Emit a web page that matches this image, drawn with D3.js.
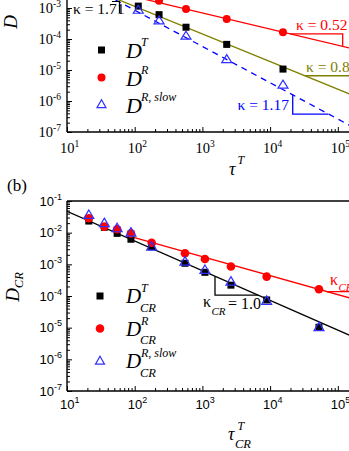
<!DOCTYPE html>
<html><head><meta charset="utf-8">
<script src="https://cdn.jsdelivr.net/npm/d3@7"></script>
<style>body{margin:0;background:#fff} svg{display:block}</style>
</head><body>
<svg id="c" width="349" height="451"></svg>
<script>
// ---------- data ----------
const xTickExps = [1, 2, 3, 4, 5];
const yTickExps = [-7, -6, -5, -4, -3, -2, -1];
const yLabelExpsA = [-7, -6, -5, -4, -3];   // labels visible in the cropped panel (a)
const yLabelExpsB = [-7, -6, -5, -4, -3, -2, -1];

// panel (a)
const tauA      = [113, 229, 573, 2286, 15500];
const DT_a      = [1.15e-3, 6.1e-4, 2.4e-4, 6.7e-5, 1.07e-5];
const DR_a      = [3.2e-3, 1.7e-3, 9.3e-4, 4.4e-4, 1.65e-4];
const DRslow_a  = [8.6e-4, 3.9e-4, 1.25e-4, 2.2e-5, 3.3e-6];
// power-law fits D = 10^logA * tau^-kappa  (red, olive, blue)
const fitKappaA = [0.52, 0.89, 1.17];
const fitLogAA  = [-1.60, -1.167, -0.731];
const fitLabelA = ["κ = 0.52", "κ = 0.89", "κ = 1.17"];

// panel (b)
const tauB      = [21, 35.6, 55, 88, 178, 553, 1090, 2640, 8900, 52700];
const DT_b      = [0.0233, 0.0148, 0.0095, 0.0062, 0.0036, 1.08e-3, 5.6e-4, 2.2e-4, 7.5e-5, 1.03e-5];
const DR_b      = [0.0284, 0.0155, 0.0128, 0.0095, 0.0048, 2.24e-3, 1.48e-3, 8.5e-4, 4.1e-4, 1.63e-4];
const DRslow_b  = [0.036, 0.0198, 0.0137, 0.010, 3.6e-3, 1.21e-3, 6.6e-4, 2.83e-4, 6.95e-5, 1.03e-5];
// fits (black, red)
const fitKappaB = [0.937, 0.60];
const fitLogAB  = [-0.39, -0.959];
const fitStartB = [10, 88];

// ---------- styles ----------
const RED = "#ff0000", OLIVE = "#808000", BLUE = "#0000ff", TRI = "#2f2fff";
const SERIF = "'Liberation Serif','Times New Roman',serif";
const SANS = "'Liberation Sans',Arial,sans-serif";

const svg = d3.select("#c");
const XMAX = 1e6;

const xA = d3.scaleLog().domain([10, 1e5]).range([67, 67 + 4 * 67.7]);
const yA = d3.scaleLog().domain([1e-7, 1e-1]).range([132, 132 - 6 * 31]);
const xB = d3.scaleLog().domain([10, 1e5]).range([67, 67 + 4 * 67.7]);
const yB = d3.scaleLog().domain([1e-7, 1e-1]).range([391, 201]);

const defs = svg.append("defs");
defs.append("clipPath").attr("id", "clipA").append("rect")
  .attr("x", 67).attr("y", yA(1e-1)).attr("width", 400).attr("height", yA(1e-7) - yA(1e-1));
defs.append("clipPath").attr("id", "clipB").append("rect")
  .attr("x", 67).attr("y", yB(1e-1)).attr("width", 400).attr("height", yB(1e-7) - yB(1e-1));

function minorVals(e0, e1) {
  const v = [];
  for (let e = e0; e < e1; e++) for (let k = 2; k <= 9; k++) v.push(k * Math.pow(10, e));
  return v;
}

function drawAxes(x, y, font, fs, labelOpts, yLabels) {
  const g = svg.append("g");
  const x0 = x.range()[0], yb = y.range()[0], yt = y.range()[1];
  const gx = g.append("g").attr("transform", `translate(0,${yb})`);
  gx.call(d3.axisBottom(x).tickValues(xTickExps.map(e => Math.pow(10, e))).tickSize(-5).tickSizeOuter(0).tickFormat(""));
  gx.append("g").call(d3.axisBottom(x).tickValues(minorVals(1, 5)).tickSize(-3).tickSizeOuter(0).tickFormat(""));
  const gy = g.append("g").attr("transform", `translate(${x0},0)`);
  gy.call(d3.axisLeft(y).tickValues(yTickExps.map(e => Math.pow(10, e))).tickSize(-5).tickSizeOuter(0).tickFormat(""));
  gy.append("g").call(d3.axisLeft(y).tickValues(minorVals(-7, -1)).tickSize(-3).tickSizeOuter(0).tickFormat(""));
  g.selectAll(".domain").remove();
  g.selectAll(".tick line").attr("stroke", "#000").attr("stroke-width", 1);
  g.append("line").attr("x1", x0).attr("x2", x0).attr("y1", yt).attr("y2", yb).attr("stroke", "#000").attr("stroke-width", 1.4);
  g.append("line").attr("x1", x0).attr("x2", 360).attr("y1", yb).attr("y2", yb).attr("stroke", "#000").attr("stroke-width", 1.4);
  g.append("line").attr("x1", x0).attr("x2", 360).attr("y1", yt).attr("y2", yt).attr("stroke", "#000").attr("stroke-width", 1.4);
  xTickExps.forEach(e => {
    const t = g.append("text").attr("x", x(Math.pow(10, e)) - labelOpts.half).attr("y", yb + labelOpts.xdy)
      .attr("font-family", font).attr("font-size", fs).attr("fill", "#000");
    t.append("tspan").text("10");
    t.append("tspan").attr("dy", -labelOpts.sup).attr("font-size", labelOpts.supfs).text(e);
  });
  yLabels.forEach(e => {
    const t = g.append("text").attr("x", labelOpts.yx).attr("y", y(Math.pow(10, e)) + labelOpts.ydy)
      .attr("text-anchor", "end").attr("font-family", font).attr("font-size", fs).attr("fill", "#000");
    t.append("tspan").text("10");
    t.append("tspan").attr("dy", -labelOpts.sup).attr("font-size", labelOpts.supfs).text("-" + Math.abs(e));
  });
}

function triPath(cx, cy, w, h) {
  return `M${cx},${cy - h * 0.6}L${cx + w / 2},${cy + h * 0.4}L${cx - w / 2},${cy + h * 0.4}Z`;
}

function drawSeries(g, x, y, tau, dt, dr, drs, sq, cr, tw, th) {
  g.selectAll(null).data(tau.map((t, i) => [t, dt[i]])).enter().append("rect")
    .attr("x", d => x(d[0]) - sq / 2).attr("y", d => y(d[1]) - sq / 2)
    .attr("width", sq).attr("height", sq).attr("fill", "#000");
  g.selectAll(null).data(tau.map((t, i) => [t, dr[i]])).enter().append("circle")
    .attr("cx", d => x(d[0])).attr("cy", d => y(d[1])).attr("r", cr).attr("fill", RED);
  g.selectAll(null).data(tau.map((t, i) => [t, drs[i]])).enter().append("path")
    .attr("d", d => triPath(x(d[0]), y(d[1]), tw, th))
    .attr("fill", "none").attr("stroke", TRI).attr("stroke-width", 1.2);
}

function fitVal(logA, k, t) { return Math.pow(10, logA) * Math.pow(t, -k); }

function slopeTri(g, x, y, logA, k, lt1, lt2, type, color) {
  const t1 = Math.pow(10, lt1), t2 = Math.pow(10, lt2);
  let pts;
  if (type === "hv") pts = [[t1, fitVal(logA, k, t1)], [t2, fitVal(logA, k, t1)], [t2, fitVal(logA, k, t2)]];
  else pts = [[t1, fitVal(logA, k, t1)], [t1, fitVal(logA, k, t2)], [t2, fitVal(logA, k, t2)]];
  g.append("path").attr("d", d3.line().x(d => x(d[0])).y(d => y(d[1]))(pts))
    .attr("fill", "none").attr("stroke", color).attr("stroke-width", 1.3);
}

// ---------- panel (a) ----------
drawAxes(xA, yA, SERIF, 14.5, { half: 7, xdy: 21, sup: 6, supfs: 9.5, yx: 61, ydy: 5 }, yLabelExpsA);
const gA = svg.append("g").attr("clip-path", "url(#clipA)");
const fitColorsA = [RED, OLIVE, BLUE];
fitKappaA.forEach((k, i) => {
  const pts = [10, XMAX].map(t => [t, fitVal(fitLogAA[i], k, t)]);
  gA.append("path").attr("d", d3.line().x(d => xA(d[0])).y(d => yA(d[1]))(pts))
    .attr("fill", "none").attr("stroke", fitColorsA[i]).attr("stroke-width", 1.3)
    .attr("stroke-dasharray", i === 2 ? "6,5" : null);
});
drawSeries(gA, xA, yA, tauA, DT_a, DR_a, DRslow_a, 7, 4, 10, 8);
slopeTri(gA, xA, yA, fitLogAA[0], fitKappaA[0], 4.294, 5.072, "hv", RED);
slopeTri(gA, xA, yA, fitLogAA[1], fitKappaA[1], 4.515, 5.6, "hv", OLIVE);
slopeTri(gA, xA, yA, fitLogAA[2], fitKappaA[2], 4.334, 4.863, "vh", BLUE);
gA.append("path").attr("d", "M112,1.5L119.5,1.5L119.5,13").attr("fill", "none").attr("stroke", "#000").attr("stroke-width", 1.2);

const ktext = (x, y, s, c, anchor) => svg.append("text").attr("x", x).attr("y", y).attr("font-family", SERIF)
  .attr("font-size", 15.5).attr("fill", c).attr("text-anchor", anchor || "start").text(s);
ktext(296, 29.5, fitLabelA[0], RED);
ktext(306, 72, fitLabelA[1], OLIVE);
ktext(289, 109.5, fitLabelA[2], BLUE, "end");
ktext(73, 13.5, "κ = 1.71", "#000");

const legA = [{ y: 50, sup: "T" }, { y: 77.5, sup: "R" }, { y: 104.5, sup: "R, slow" }];
legA.forEach((d, i) => {
  if (i === 0) svg.append("rect").attr("x", 98).attr("y", d.y - 3.5).attr("width", 7).attr("height", 7).attr("fill", "#000");
  if (i === 1) svg.append("circle").attr("cx", 101.5).attr("cy", d.y).attr("r", 4).attr("fill", RED);
  if (i === 2) svg.append("path").attr("d", triPath(101.5, d.y, 9, 8)).attr("fill", "none").attr("stroke", TRI).attr("stroke-width", 1.2);
  svg.append("text").attr("x", 126).attr("y", d.y + 8).attr("font-family", SERIF).attr("font-style", "italic").attr("font-size", 22).text("D");
  svg.append("text").attr("x", 141).attr("y", d.y - 4).attr("font-family", SERIF).attr("font-style", "italic").attr("font-size", 12).text(d.sup);
});

svg.append("text").attr("transform", "translate(17,22) rotate(-90)").attr("text-anchor", "middle")
  .attr("font-family", SERIF).attr("font-style", "italic").attr("font-size", 19).text("D");
svg.append("text").attr("x", 229).attr("y", 175).attr("font-family", SERIF).attr("font-style", "italic").attr("font-size", 18).text("τ");
svg.append("text").attr("x", 237.5).attr("y", 164).attr("font-family", SERIF).attr("font-style", "italic").attr("font-size", 12).text("T");

// ---------- panel (b) ----------
svg.append("text").attr("x", 7).attr("y", 191).attr("font-family", SERIF).attr("font-size", 17).text("(b)");
drawAxes(xB, yB, SANS, 13, { half: 7, xdy: 18, sup: 6, supfs: 9, yx: 62, ydy: 4.5 }, yLabelExpsB);
const gB = svg.append("g").attr("clip-path", "url(#clipB)");
const fitColorsB = ["#000", RED];
fitKappaB.forEach((k, i) => {
  const pts = [fitStartB[i], XMAX].map(t => [t, fitVal(fitLogAB[i], k, t)]);
  gB.append("path").attr("d", d3.line().x(d => xB(d[0])).y(d => yB(d[1]))(pts))
    .attr("fill", "none").attr("stroke", fitColorsB[i]).attr("stroke-width", 1.4);
});
drawSeries(gB, xB, yB, tauB, DT_b, DR_b, DRslow_b, 7, 4.3, 10, 8.5);
slopeTri(gB, xB, yB, fitLogAB[0], fitKappaB[0], 3.186, 3.821, "vh", "#000");
slopeTri(gB, xB, yB, fitLogAB[1], fitKappaB[1], 4.835, 5.6, "hv", RED);

svg.append("text").attr("x", 203).attr("y", 307).attr("font-family", SERIF).attr("font-size", 16).text("κ");
svg.append("text").attr("x", 211.5).attr("y", 315).attr("font-family", SERIF).attr("font-style", "italic").attr("font-size", 11).text("CR");
svg.append("text").attr("x", 228).attr("y", 309).attr("font-family", SERIF).attr("font-size", 16).text("= 1.0");
svg.append("text").attr("x", 330).attr("y", 285).attr("font-family", SERIF).attr("font-size", 16).attr("fill", RED).text("κ");
svg.append("text").attr("x", 338.5).attr("y", 291).attr("font-family", SERIF).attr("font-style", "italic").attr("font-size", 11).attr("fill", RED).text("CR");

const legB = [{ y: 296, sup: "T" }, { y: 328.5, sup: "R" }, { y: 361, sup: "R, slow" }];
legB.forEach((d, i) => {
  if (i === 0) svg.append("rect").attr("x", 96.5).attr("y", d.y - 3.5).attr("width", 7).attr("height", 7).attr("fill", "#000");
  if (i === 1) svg.append("circle").attr("cx", 100).attr("cy", d.y).attr("r", 4.3).attr("fill", RED);
  if (i === 2) svg.append("path").attr("d", triPath(100, d.y, 9, 8)).attr("fill", "none").attr("stroke", TRI).attr("stroke-width", 1.2);
  svg.append("text").attr("x", 126).attr("y", d.y + 7).attr("font-family", SERIF).attr("font-style", "italic").attr("font-size", 21).text("D");
  svg.append("text").attr("x", 141).attr("y", d.y - 4).attr("font-family", SERIF).attr("font-style", "italic").attr("font-size", 12).text(d.sup);
  svg.append("text").attr("x", 140).attr("y", d.y + 15.5).attr("font-family", SERIF).attr("font-style", "italic").attr("font-size", 12.5).text("CR");
});

const yt = svg.append("text").attr("transform", "translate(19,287) rotate(-90)").attr("text-anchor", "middle")
  .attr("font-family", SERIF).attr("font-style", "italic").attr("font-size", 19);
yt.append("tspan").text("D");
yt.append("tspan").attr("dy", 4).attr("font-size", 12.5).text("CR");
svg.append("text").attr("x", 228).attr("y", 440).attr("font-family", SERIF).attr("font-style", "italic").attr("font-size", 18).text("τ");
svg.append("text").attr("x", 237.5).attr("y", 430).attr("font-family", SERIF).attr("font-style", "italic").attr("font-size", 12).text("T");
svg.append("text").attr("x", 235).attr("y", 448).attr("font-family", SERIF).attr("font-style", "italic").attr("font-size", 12.5).text("CR");
</script>
</body></html>
